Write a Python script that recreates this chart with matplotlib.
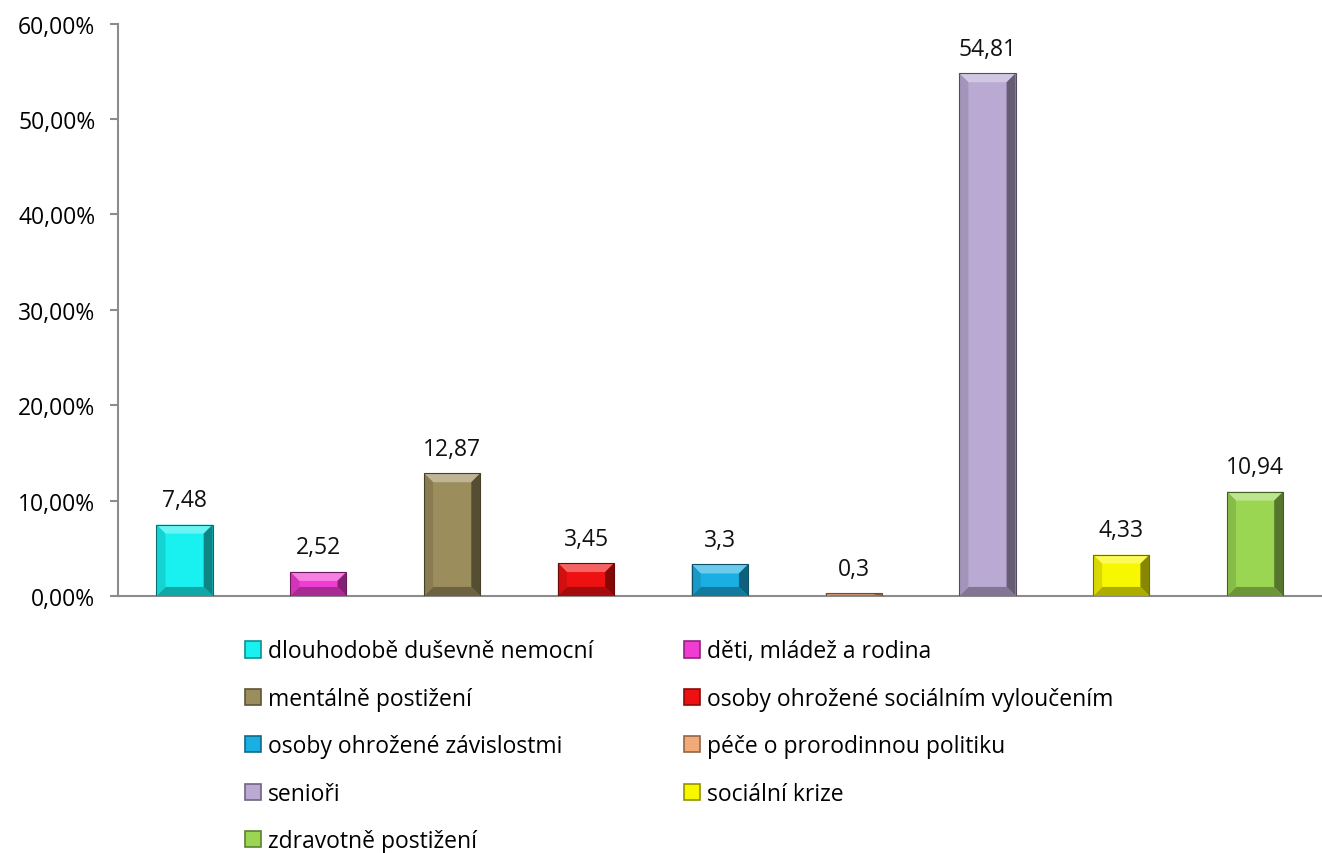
import matplotlib

matplotlib.use("Agg")
import matplotlib.pyplot as plt
from matplotlib.patches import Patch, Polygon
from matplotlib.colors import to_rgb

# ---------------------------------------------------------------------------
# Data
# ---------------------------------------------------------------------------
categories = [
    "dlouhodobě duševně nemocní",
    "děti, mládež a rodina",
    "mentálně postižení",
    "osoby ohrožené sociálním vyloučením",
    "osoby ohrožené závislostmi",
    "péče o prorodinnou politiku",
    "senioři",
    "sociální krize",
    "zdravotně postižení",
]
values = [7.48, 2.52, 12.87, 3.45, 3.3, 0.3, 54.81, 4.33, 10.94]
value_labels = ["7,48", "2,52", "12,87", "3,45", "3,3", "0,3", "54,81", "4,33", "10,94"]
yticks = [0, 10, 20, 30, 40, 50, 60]
ytick_labels = ["0,00%", "10,00%", "20,00%", "30,00%", "40,00%", "50,00%", "60,00%"]
colors = ["#19F0F0", "#F03CD2", "#9C8D5C", "#EE1111", "#1AAFE3",
          "#F2AA78", "#B9A9D3", "#F7F700", "#9AD652"]

plt.rcParams["font.family"] = ["Open Sans", "DejaVu Sans"]
FS = 16.5

fig = plt.figure(figsize=(13.22, 8.54), dpi=100)
ax = fig.add_axes([0.089, 0.301, 0.911, 0.670])

x = list(range(len(values)))
ax.set_xlim(-0.5, len(values) - 0.5)
ax.set_ylim(0, 60)

bar_w = 0.42
bars = ax.bar(x, values, width=bar_w, color=colors, edgecolor="none", zorder=2)


def shade(c, f):
    r, g, b = to_rgb(c)
    if f >= 0:
        return (r + (1 - r) * f, g + (1 - g) * f, b + (1 - b) * f)
    return (r * (1 + f), g * (1 + f), b * (1 + f))


# bevel effect, size in pixels converted to data units
fig.canvas.draw()
ax_bb = ax.get_window_extent()
px_x = (ax.get_xlim()[1] - ax.get_xlim()[0]) / ax_bb.width
px_y = (ax.get_ylim()[1] - ax.get_ylim()[0]) / ax_bb.height
bev = 9
for rect, c in zip(bars, colors):
    x0, y0 = rect.get_x(), rect.get_y()
    w, h = rect.get_width(), rect.get_height()
    dx = min(bev * px_x, w / 2)
    dy = min(bev * px_y, h / 2)
    x1, y1 = x0 + w, y0 + h
    faces = [
        ([(x0, y1), (x1, y1), (x1 - dx, y1 - dy), (x0 + dx, y1 - dy)], 0.35),
        ([(x1, y1), (x1, y0), (x1 - dx, y0 + dy), (x1 - dx, y1 - dy)], -0.45),
        ([(x0, y0), (x1, y0), (x1 - dx, y0 + dy), (x0 + dx, y0 + dy)], -0.3),
        ([(x0, y1), (x0, y0), (x0 + dx, y0 + dy), (x0 + dx, y1 - dy)], -0.12),
    ]
    for pts, f in faces:
        ax.add_patch(Polygon(pts, closed=True, facecolor=shade(c, f),
                             edgecolor="none", zorder=3))
    # thin dark outline like the original bevelled bars
    ax.add_patch(Polygon([(x0, y0), (x0, y1), (x1, y1), (x1, y0)], closed=True,
                         facecolor="none", edgecolor=shade(c, -0.55),
                         linewidth=0.8, zorder=4))

for rect, lab in zip(bars, value_labels):
    ax.annotate(lab, (rect.get_x() + rect.get_width() / 2, rect.get_height()),
                xytext=(0, 9), textcoords="offset points",
                ha="center", va="bottom", fontsize=FS, color="#111111")

ax.set_yticks(yticks)
ax.set_yticklabels(ytick_labels, fontsize=FS)
ax.set_xticks([])
for side in ("top", "right"):
    ax.spines[side].set_visible(False)
ax.spines["left"].set_color("#8C8C8C")
ax.spines["bottom"].set_color("#8C8C8C")
ax.spines["left"].set_linewidth(1.5)
ax.spines["bottom"].set_linewidth(1.5)
ax.tick_params(axis="y", length=6, width=1.5, color="#8C8C8C", pad=10)

# legend: row-wise order across two columns
handles = [Patch(facecolor=c, edgecolor=shade(c, -0.4), linewidth=1.2) for c in colors]
order = [0, 2, 4, 6, 8, 1, 3, 5, 7]
fig.legend([handles[i] for i in order], [categories[i] for i in order],
           ncol=2, loc="upper left", bbox_to_anchor=(0.1855, 0.250),
           frameon=False, fontsize=FS, handlelength=0.7, handleheight=0.7,
           handletextpad=0.3, columnspacing=3.95, labelspacing=1.02,
           borderaxespad=0, borderpad=0)

fig.savefig("out.png", dpi=100)
